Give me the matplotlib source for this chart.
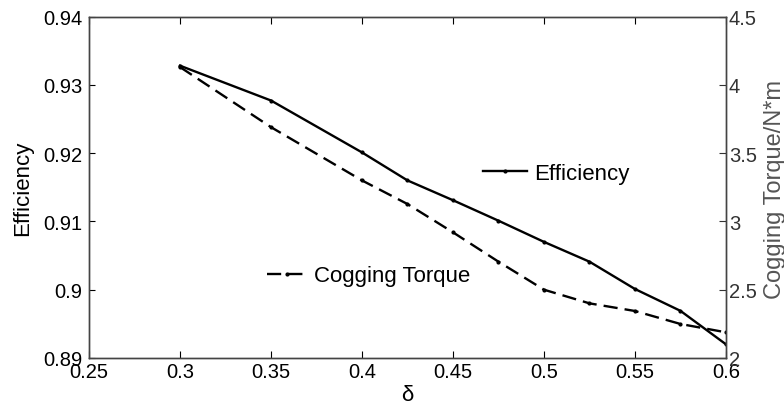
import matplotlib
matplotlib.use('Agg')
import matplotlib.pyplot as plt

plt.rcParams['font.family'] = ['Liberation Sans', 'DejaVu Sans']

# delta values
delta = [0.3, 0.35, 0.4, 0.425, 0.45, 0.475, 0.5, 0.525, 0.55, 0.575, 0.6]
# efficiency (left axis)
efficiency = [0.9328, 0.9277, 0.9201, 0.916, 0.9131, 0.9101, 0.907, 0.9041, 0.9001, 0.8969, 0.892]
# cogging torque N*m (right axis)
cogging = [4.13, 3.69, 3.30, 3.127, 2.92, 2.705, 2.50, 2.40, 2.344, 2.249, 2.188]

fig = plt.figure(figsize=(7.84, 4.10), dpi=100)
ax = fig.add_axes([0.1135, 0.1244, 0.8125, 0.8329])
ax2 = ax.twinx()

l1, = ax.plot(delta, efficiency, '-', color='black', lw=1.7, marker='.', ms=4,
              label='Efficiency')
l2, = ax2.plot(delta, cogging, '--', color='black', lw=1.7, marker='.', ms=4,
               dashes=(6, 3), label='Cogging Torque')

ax.set_xlim(0.25, 0.6)
ax.set_ylim(0.89, 0.94)
ax2.set_ylim(2, 4.5)
ax.set_xticks([0.25, 0.3, 0.35, 0.4, 0.45, 0.5, 0.55, 0.6])
ax.set_xticklabels(['0.25', '0.3', '0.35', '0.4', '0.45', '0.5', '0.55', '0.6'])
ax.set_yticks([0.89, 0.9, 0.91, 0.92, 0.93, 0.94])
ax.set_yticklabels(['0.89', '0.9', '0.91', '0.92', '0.93', '0.94'])
ax2.set_yticks([2, 2.5, 3, 3.5, 4, 4.5])
ax2.set_yticklabels(['2', '2.5', '3', '3.5', '4', '4.5'])

ax.tick_params(axis='x', direction='in', top=True, length=5, labelsize=14.5, pad=3)
ax.tick_params(axis='y', direction='in', length=4, labelsize=14.5, pad=5)
ax2.tick_params(axis='y', direction='in', length=5, labelsize=14.5, pad=2,
                colors='#333333')
for a in (ax, ax2):
    for s in a.spines.values():
        s.set_color('#444444')
        s.set_linewidth(1.0)

ax.set_xlabel('δ', fontsize=16)
ax.xaxis.set_label_coords(0.5, -0.075)
ax.set_ylabel('Efficiency', fontsize=16)
ax.yaxis.set_label_coords(-0.088, 0.5)
fig.text(0.989, 0.537, 'Cogging Torque/N*m', rotation=90, ha='center', va='center',
         fontsize=17, color='#555555')

fig.legend(handles=[l1], loc='center left', bbox_to_anchor=(483 / 784, 0.5756),
           frameon=False, fontsize=16, handlelength=2.0, handletextpad=0.3,
           borderpad=0, borderaxespad=0)
fig.legend(handles=[l2], loc='center left', bbox_to_anchor=(267 / 784, 0.3244),
           frameon=False, fontsize=16, handlelength=1.8, handletextpad=0.3,
           borderpad=0, borderaxespad=0)

fig.savefig('out.png', dpi=100)
